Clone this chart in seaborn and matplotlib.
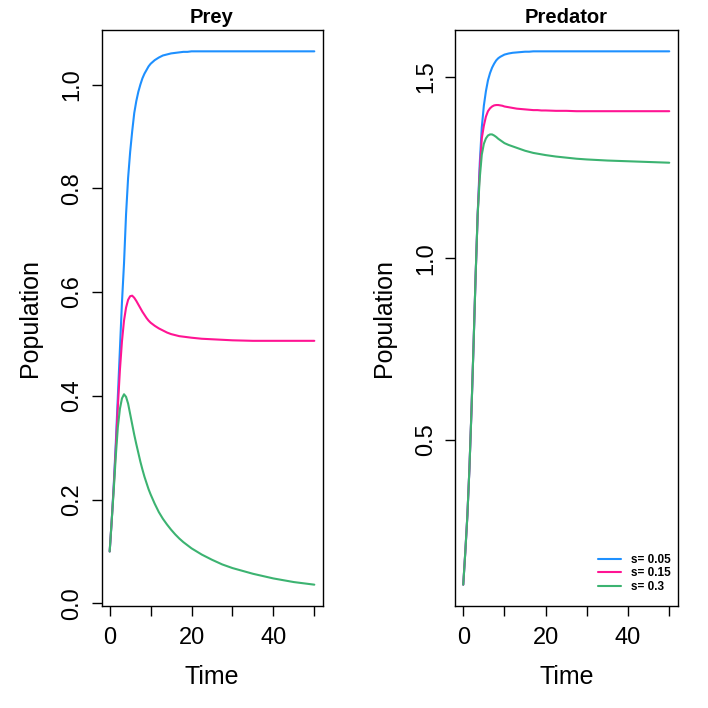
import numpy as np
import pandas as pd
import matplotlib
matplotlib.use("Agg")
import matplotlib.pyplot as plt
import seaborn as sns
from matplotlib.lines import Line2D

# ---- data ----
time = [0, 0.5, 1, 1.5, 2, 2.5, 3, 3.5, 4, 4.5, 5, 5.5, 6, 6.5, 7, 7.5, 8, 8.5, 9, 9.5, 10,
        11, 12, 13, 14, 15, 16, 17, 18, 19, 20,
        22.5, 25, 27.5, 30, 35, 40, 45, 50]

prey_s005 = [0.10, 0.16, 0.23, 0.31, 0.40, 0.49, 0.58, 0.655, 0.75, 0.82, 0.87, 0.91, 0.945,
             0.968, 0.986, 1.000, 1.012, 1.021, 1.028, 1.035, 1.040,
             1.047, 1.052, 1.056, 1.058, 1.060, 1.061, 1.062, 1.063, 1.063, 1.064,
             1.064, 1.064, 1.064, 1.064, 1.064, 1.064, 1.064, 1.064]
prey_s015 = [0.10, 0.16, 0.225, 0.30, 0.38, 0.45, 0.505, 0.545, 0.57, 0.585, 0.592, 0.593,
             0.589, 0.583, 0.576, 0.569, 0.562, 0.556, 0.550, 0.545, 0.541,
             0.535, 0.530, 0.526, 0.522, 0.519, 0.517, 0.515, 0.514, 0.513, 0.512,
             0.510, 0.509, 0.508, 0.507, 0.506, 0.506, 0.506, 0.506]
prey_s03 = [0.10, 0.16, 0.22, 0.285, 0.34, 0.375, 0.395, 0.403, 0.398, 0.385, 0.365, 0.345,
            0.325, 0.307, 0.29, 0.273, 0.258, 0.244, 0.232, 0.220, 0.21,
            0.192, 0.176, 0.163, 0.152, 0.142, 0.133, 0.125, 0.118, 0.112, 0.106,
            0.094, 0.084, 0.075, 0.068, 0.057, 0.048, 0.041, 0.036]

pred_s005 = [0.10, 0.19, 0.29, 0.42, 0.58, 0.76, 0.95, 1.12, 1.26, 1.36, 1.42, 1.46, 1.49,
             1.510, 1.525, 1.536, 1.545, 1.551, 1.555, 1.558, 1.561,
             1.564, 1.566, 1.567, 1.568, 1.569, 1.569, 1.570, 1.570, 1.570, 1.570,
             1.570, 1.570, 1.570, 1.570, 1.570, 1.570, 1.570, 1.570]
pred_s015 = [0.10, 0.19, 0.29, 0.42, 0.58, 0.76, 0.95, 1.12, 1.24, 1.33, 1.365, 1.39, 1.405,
             1.413, 1.418, 1.421, 1.422, 1.422, 1.421, 1.420, 1.418,
             1.416, 1.414, 1.412, 1.411, 1.410, 1.409, 1.408, 1.408, 1.407, 1.407,
             1.406, 1.406, 1.405, 1.405, 1.405, 1.405, 1.405, 1.405]
pred_s03 = [0.10, 0.19, 0.29, 0.42, 0.58, 0.76, 0.95, 1.12, 1.22, 1.285, 1.315, 1.33, 1.338,
            1.341, 1.341, 1.338, 1.334, 1.329, 1.325, 1.321, 1.317,
            1.312, 1.308, 1.304, 1.300, 1.296, 1.293, 1.290, 1.288, 1.286, 1.284,
            1.280, 1.277, 1.274, 1.272, 1.269, 1.267, 1.265, 1.263]

series_labels = ["s= 0.05", "s= 0.15", "s= 0.3"]
colors = ["#1E90FF", "#FF1493", "#3CB371"]


def long_df(a, b, c):
    n = len(time)
    return pd.DataFrame({
        "Time": time * 3,
        "Population": a + b + c,
        "s": [series_labels[0]] * n + [series_labels[1]] * n + [series_labels[2]] * n,
    })


prey_df = long_df(prey_s005, prey_s015, prey_s03)
pred_df = long_df(pred_s005, pred_s015, pred_s03)

sns.set_theme(style="white")
plt.rcParams['font.family'] = ['Liberation Sans', 'DejaVu Sans']
plt.rcParams['text.color'] = 'black'
plt.rcParams['axes.labelcolor'] = 'black'
plt.rcParams['xtick.color'] = 'black'
plt.rcParams['ytick.color'] = 'black'

W = H = 708
fig = plt.figure(figsize=(7.08, 7.08), dpi=100)
top, bot = 30, 606
ax1 = fig.add_axes([101.5 / W, 1 - bot / H, 221 / W, (bot - top) / H])
ax2 = fig.add_axes([455 / W, 1 - bot / H, 222.5 / W, (bot - top) / H])

palette = dict(zip(series_labels, colors))
for ax, df, title, yt in [
    (ax1, prey_df, "Prey", [0.0, 0.2, 0.4, 0.6, 0.8, 1.0]),
    (ax2, pred_df, "Predator", [0.5, 1.0, 1.5]),
]:
    sns.lineplot(data=df, x="Time", y="Population", hue="s", palette=palette,
                 linewidth=1.5, ax=ax, legend=False, sort=False, estimator=None)
    ymin, ymax = df["Population"].min(), df["Population"].max()
    pad = 0.04 * (ymax - ymin)
    ax.set_ylim(ymin - pad, ymax + pad)
    ax.set_xlim(-2, 52)
    ax.set_xticks([0, 10, 20, 30, 40, 50])
    ax.set_xticklabels(["0", "", "20", "", "40", ""])
    ax.set_yticks(yt)
    ax.set_yticklabels([f"{v:.1f}" for v in yt], rotation=90, va="center")
    ax.tick_params(axis="both", direction="out", length=7, width=1, color="black",
                   labelsize=17, labelcolor="black", pad=6,
                   bottom=True, left=True)
    ax.tick_params(axis="x", pad=8)
    for sp in ax.spines.values():
        sp.set_color("black")
        sp.set_linewidth(1)
        sp.set_visible(True)
    ax.set_xlabel("Time", fontsize=18, labelpad=12, color="black")
    ax.set_ylabel("Population", fontsize=18, labelpad=14, color="black")
    ax.set_title(title, fontsize=14.5, fontweight="bold", pad=5, color="black")
    ax.grid(False)

handles = [Line2D([0], [0], color=c, lw=1.5) for c in colors]
ax2.legend(handles, series_labels, loc="lower right", frameon=False,
           bbox_to_anchor=(0.99, 0.014), borderaxespad=0.0,
           prop={"weight": "bold", "size": 8.5}, handlelength=2.0,
           labelspacing=0.15, handletextpad=0.8,
           labelcolor="black")

fig.savefig("out.png", dpi=100)
